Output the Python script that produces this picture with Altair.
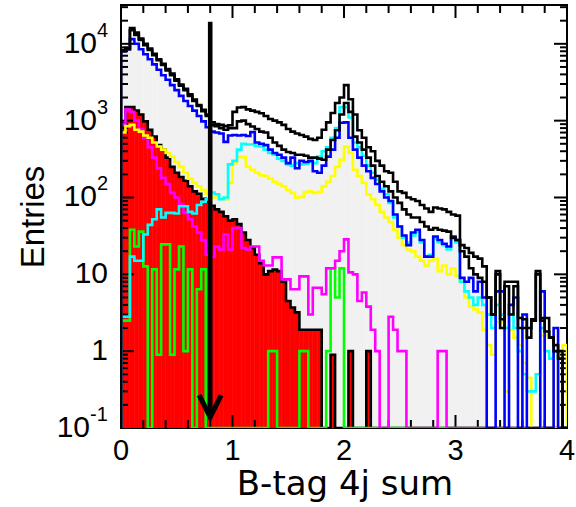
import altair as alt
import numpy as np
import pandas as pd

# 100 bins of width 0.04 on [0, 4]
X_LO, X_HI, N_BINS = 0.0, 4.0, 100
Y_LO, Y_HI = 0.1, 32000.0
CUT = 0.8            # selection cut marked by the arrow
GRAY_LAST_BIN = 82   # the filled background stops at 3.28

# ---- bin contents -------------------------------------------------------
total = [8300, 8800, 16000, 14000, 11700, 10000, 8700, 7400, 6300, 5500,
         4700, 4100, 3450, 2950, 2600, 2200, 1880, 1600, 1380, 1200,
         950, 900, 880, 850, 870, 1300, 1480, 1500, 1400, 1350,
         1300, 1250, 1150, 1050, 1000, 950, 880, 780, 720, 680,
         650, 620, 580, 560, 600, 760, 950, 1260, 1700, 2000,
         2900, 1900, 1200, 750, 600, 450, 400, 300, 260, 220,
         210, 160, 120, 115, 100, 95, 90, 80, 72, 65,
         74, 72, 70, 65, 60, 58, 24, 22, 19, 17,
         16, 12.7, 5, 3, 11, 2.6, 8, 8, 8, 2.7,
         2.6, 2, 2.6, 11, 2.7, 2.7, 1.5, 1.2, 1, 0]

total_alt = [8000, 8500, 15000, 13000, 11200, 9600, 8300, 7100, 6100, 5300,
             4500, 3900, 3300, 2850, 2500, 2100, 1800, 1550, 1330, 1150,
             870, 850, 800, 760, 800, 800, 980, 1000, 900, 840,
             780, 720, 700, 600, 520, 470, 420, 390, 380, 360,
             360, 350, 330, 330, 320, 310, 420, 560, 750, 1200,
             1700, 1300, 620, 520, 420, 330, 260, 190, 160, 140,
             120, 100, 85, 70, 60, 55, 55, 48, 42, 38,
             40, 38, 37, 36, 30, 28, 20, 17, 12, 10,
             9, 8, 5, 3, 10, 2, 7, 3, 7, 2,
             2, 1.5, 2.5, 10, 2.5, 1.8, 1.5, 1, 0.8, 0]

blue = [8000, 8500, 11500, 10000, 8500, 7300, 6300, 5400, 4600, 3900,
        3400, 2900, 2500, 2100, 1800, 1550, 1350, 1150, 980, 820,
        720, 700, 680, 530, 640, 650, 640, 650, 630, 710,
        520, 500, 480, 420, 380, 360, 330, 280, 330, 240,
        300, 290, 300, 220, 210, 260, 340, 420, 600, 940,
        950, 600, 420, 330, 260, 220, 180, 150, 120, 100,
        90, 60, 42, 32, 24, 35, 38, 28, 17, 17,
        31, 28, 25, 23, 31, 28, 9, 8, 9, 6,
        8, 5, 0, 0, 6, 6, 0, 4, 5, 0,
        3, 0, 0, 0, 6, 0, 0, 2, 0, 0]

cyan = [2.8, 2.8, 17, 15, 15, 33, 44, 52, 70, 55,
        63, 63, 62, 77, 77, 65, 62, 80, 88, 95,
        116, 110, 95, 100, 270, 300, 420, 500, 490, 490,
        470, 460, 420, 380, 360, 320, 300, 270, 260, 280,
        270, 275, 290, 280, 340, 400, 450, 600, 800, 1500,
        1500, 1100, 520, 450, 350, 260, 210, 170, 130, 110,
        85, 55, 42, 30, 26, 32, 36, 26, 17, 18,
        29, 26, 24, 21, 29, 26, 8, 6, 5, 4,
        5, 4, 3, 2, 4, 3, 2, 3, 2, 1,
        0.5, 0.3, 0.3, 0.5, 2, 1, 0.8, 1, 0.8, 0]

yellow = [700, 850, 880, 760, 720, 640, 600, 520, 460, 420,
          380, 340, 290, 250, 210, 175, 155, 140, 125, 112,
          100, 100, 97, 95, 155, 280, 340, 335, 250, 230,
          210, 195, 190, 175, 160, 150, 140, 125, 115, 100,
          102, 118, 120, 115, 118, 140, 160, 190, 250, 310,
          460, 380, 230, 190, 155, 110, 95, 80, 65, 55,
          48, 38, 30, 24, 21, 20, 17, 15, 13, 15,
          16, 11, 13, 10, 12, 9.5, 8, 5, 3.8, 3.5,
          3.2, 1.9, 1.2, 0.9, 2.4, 2.4, 0.3, 1.9, 1.5, 1.2,
          0.7, 0.45, 0, 0, 1.6, 1.6, 1.5, 0, 1.0, 1.2]

magenta = [900, 1400, 1300, 1000, 780, 600, 450, 330, 240, 180,
           150, 115, 100, 82, 63, 52, 42, 35, 28, 18,
           17, 23, 21, 33, 21, 40, 40, 22, 21, 23,
           23, 15, 13, 13, 16.6, 16.6, 8.6, 8.6, 6.4, 6.4,
           9.4, 9.4, 3, 6.7, 6.7, 5.5, 12, 12, 15, 20,
           28.5, 10.6, 10, 4.5, 5.8, 3.8, 1.9, 1, 0, 0,
           2.8, 1.9, 1, 1, 0, 0, 0, 0, 0, 0,
           0, 1, 1, 0, 0, 0, 0, 0, 0, 0,
           0, 0, 0, 0, 0, 0, 0, 0, 0, 0,
           0, 0, 0, 0, 0, 0, 0, 0, 0, 0]

red = [930, 1500, 1500, 1350, 1200, 980, 760, 620, 480, 420,
       330, 250, 210, 185, 165, 140, 120, 112, 96, 88,
       78, 70, 65, 57, 50, 52, 45, 35, 28, 22,
       18, 14, 10, 11, 11.5, 11, 8, 4.5, 3.7, 3.2,
       1.9, 1.9, 1.9, 1.9, 1.9, 0, 0, 0.9, 0, 0,
       0, 1, 0, 0, 0, 1, 0, 0, 0, 0,
       0, 0, 0, 0, 0, 0, 0, 0, 0, 0,
       0, 0, 0, 0, 0, 0, 0, 0, 0, 0,
       0, 0, 0, 0, 0, 0, 0, 0, 0, 0,
       0, 0, 0, 0, 0, 0, 0, 0, 0, 0]

green = [2.5, 2.5, 38, 23, 36, 12.7, 0, 11.6, 0.9, 24.5,
         24.5, 0.9, 11.6, 23, 1, 11.6, 0, 6.4, 11.6, 0,
         0, 0, 0, 0, 0, 0, 0, 0, 0, 0,
         0, 0, 0, 1, 1, 0, 0, 0, 0, 0,
         1, 1, 0, 0, 0, 0, 1, 12, 5, 12,
         0, 0, 0, 0, 0, 0, 0, 0, 0, 0,
         0, 0, 0, 0, 0, 0, 0, 0, 0, 0,
         0, 0, 0, 0, 0, 0, 0, 0, 0, 0,
         0, 0, 0, 0, 0, 0, 0, 0, 0, 0,
         0, 0, 0, 0, 0, 0, 0, 0, 0, 0]

# light grey background component, drawn under the blue outline
gray_fill = blue[:GRAY_LAST_BIN] + [0] * (N_BINS - GRAY_LAST_BIN)

x_tick_labels = [0, 1, 2, 3, 4]
y_label_values = [10000, 1000, 100, 10, 1, 0.1]
y_label_base = ["10", "10", "10", "10", "1", "10"]
y_label_exp = ["4", "3", "2", "", "", "-1"]
x_title = "B-tag 4j sum"
y_title = "Entries"

# ---- geometry / styles ---------------------------------------------------
W, H = 446, 423
LW = 2.6
TICK_FONT = "Liberation Sans"
edges = np.linspace(X_LO, X_HI, N_BINS + 1)

xsc = alt.Scale(domain=[X_LO, X_HI], nice=False, zero=False)
ysc = alt.Scale(type="log", domain=[Y_LO, Y_HI], nice=False)


def X(field):
    return alt.X(field, type="quantitative", scale=xsc, axis=None)


def Y(field):
    return alt.Y(field, type="quantitative", scale=ysc, axis=None)


def step_frame(values):
    """Vertices of a ROOT-style histogram outline (empty bins sit on the floor)."""
    xs, ys = [X_LO], [Y_LO]
    for i, v in enumerate(values):
        v = max(float(v), Y_LO)
        xs += [float(edges[i]), float(edges[i + 1])]
        ys += [v, v]
    xs.append(X_HI)
    ys.append(Y_LO)
    return pd.DataFrame({"x": xs, "y": ys, "k": range(len(xs))})


def bin_frame(values):
    """One row per bin: edges, content and the plot floor."""
    return pd.DataFrame({
        "lo": edges[:-1].astype(float), "hi": edges[1:].astype(float),
        "y": [max(float(v), Y_LO) for v in values], "base": Y_LO,
    })


def outline(values, color):
    return alt.Chart(step_frame(values)).mark_line(
        color=color, strokeWidth=LW, clip=True, strokeJoin="miter"
    ).encode(x=X("x"), y=Y("y"), order=alt.Order("k:Q"))


def filled(values, color):
    return alt.Chart(bin_frame(values)).mark_rect(
        color=color, opacity=1, clip=True, stroke=color, strokeWidth=0.6
    ).encode(x=X("lo"), x2="hi:Q", y=Y("y"), y2="base:Q")


layers = []

# filled components
layers.append(filled(gray_fill, "#f1f1f1"))
layers.append(filled(red, "#ff0000"))

# inward ticks on all four sides
x_minor = [round(0.2 * i, 1) for i in range(1, 20) if i % 5]
x_major = [1.0, 2.0, 3.0]
y_major = [1, 10, 100, 1000, 10000]
y_minor = [k * 10.0 ** e for e in range(-1, 5) for k in range(2, 10) if k * 10.0 ** e < Y_HI]

for vals, ln in ((x_minor, 8), (x_major, 13)):
    base = alt.Chart(pd.DataFrame({"v": vals})).mark_rule(color="black", strokeWidth=2)
    layers.append(base.encode(x=X("v"), y=alt.value(H), y2=alt.value(H - ln)))
    layers.append(base.encode(x=X("v"), y=alt.value(0), y2=alt.value(ln)))
for vals, ln in ((y_minor, 7), (y_major, 13)):
    base = alt.Chart(pd.DataFrame({"v": vals})).mark_rule(color="black", strokeWidth=2)
    layers.append(base.encode(y=Y("v"), x=alt.value(0), x2=alt.value(ln)))
    layers.append(base.encode(y=Y("v"), x=alt.value(W), x2=alt.value(W - ln)))

# histogram outlines
layers.append(outline(red, "black"))
layers.append(outline(green, "#00ff00"))
layers.append(outline(magenta, "#ff00ff"))
layers.append(outline(yellow, "#ffff00"))
layers.append(outline(cyan, "#00ffff"))
layers.append(outline(blue, "#0000ff"))
layers.append(outline(total_alt, "black"))
layers.append(outline(total, "black"))

# cut arrow
arrow_df = pd.DataFrame({"x": [CUT], "top": [19300.0], "bottom": [0.15], "head": [0.193]})
layers.append(alt.Chart(arrow_df).mark_rule(color="black", strokeWidth=4.6).encode(
    x=X("x"), y=Y("top"), y2="bottom:Q"))
layers.append(alt.Chart(arrow_df).mark_point(
    shape="M -1 -1 L 0 1 L 1 -1", filled=False, color="black", strokeWidth=5,
    size=484, opacity=1).encode(x=X("x"), y=Y("head")))

# x tick labels
layers.append(alt.Chart(pd.DataFrame({"v": x_tick_labels})).mark_text(
    align="center", baseline="alphabetic", font=TICK_FONT, fontSize=29, color="black"
).encode(x=X("v"), y=alt.value(H + 32), text=alt.Text("v:Q", format="d")))

# y tick labels with raised exponents
for val, b, e in zip(y_label_values, y_label_base, y_label_exp):
    exp_w = {0: 0, 1: 11, 2: 18}[len(e)]
    d = pd.DataFrame({"v": [val]})
    layers.append(alt.Chart(d).mark_text(
        text=b, align="right", baseline="middle", font=TICK_FONT,
        fontSize=30, color="black").encode(y=Y("v"), x=alt.value(-13 - exp_w)))
    if e:
        layers.append(alt.Chart(d).mark_text(
            text=e, align="left", baseline="middle", font=TICK_FONT,
            fontSize=20, color="black", dy=-13).encode(y=Y("v"), x=alt.value(-13 - exp_w)))

# axis titles
title_df = pd.DataFrame({"a": [0]})
layers.append(alt.Chart(title_df).mark_text(
    text=x_title, align="center", baseline="alphabetic", font="DejaVu Sans", fontSize=34,
    color="black").encode(x=alt.value(W / 2 + 1), y=alt.value(H + 67)))
layers.append(alt.Chart(title_df).mark_text(
    text=y_title, align="center", baseline="alphabetic", font=TICK_FONT, fontSize=33,
    angle=270, color="black").encode(x=alt.value(-77), y=alt.value(212)))

chart = alt.layer(*layers).properties(
    width=W, height=H,
    autosize=alt.AutoSizeParams(type="none"),
    padding={"left": 121, "top": 5, "right": 9, "bottom": 79},
).configure_view(stroke="black", strokeWidth=2)

chart.save("out.html", embed_options={"renderer": "svg", "actions": False})
